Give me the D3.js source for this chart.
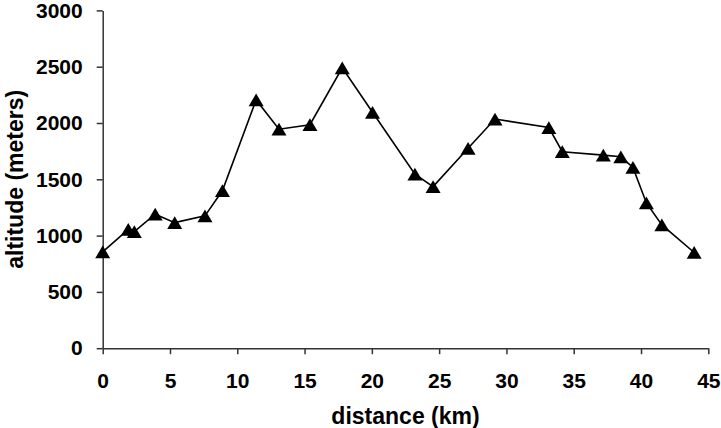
<!DOCTYPE html>
<html>
<head>
<meta charset="utf-8">
<script src="https://cdn.jsdelivr.net/npm/d3@7"></script>
<style>
  body { margin: 0; background: #fff; }
  svg text { font-family: "Liberation Sans", Arial, sans-serif; font-weight: bold; fill: #000; }
</style>
</head>
<body>
<svg id="chart"></svg>
<script>
// distance along the route (km) and altitude (m)
const distance = [0, 1.9, 2.35, 3.9, 5.35, 7.6, 8.9, 11.4, 13.1, 15.4, 17.8, 20.05,
    23.2, 24.55, 27.15, 29.15, 33.15, 34.15, 37.2, 38.5, 39.4, 40.4, 41.55, 43.95];
const altitude = [855, 1055, 1035, 1190, 1115, 1175, 1400, 2205, 1945, 1985, 2490, 2095,
    1545, 1435, 1775, 2035, 1960, 1745, 1715, 1700, 1605, 1290, 1095, 850];
const xTicks = [0, 5, 10, 15, 20, 25, 30, 35, 40, 45];
const yTicks = [0, 500, 1000, 1500, 2000, 2500, 3000];

const width = 721, height = 428;
const margin = { top: 10.4, right: 12.7, bottom: 79.8, left: 102.7 };

const svg = d3.select('#chart')
    .attr('width', width)
    .attr('height', height);

const inner_width = width - margin.left - margin.right;
const inner_height = height - margin.top - margin.bottom;

const chart = svg.append('g')
    .attr('transform', `translate(${margin.left}, ${margin.top})`);

const xscale = d3.scaleLinear().domain([0, 45]).range([0, inner_width]);
const yscale = d3.scaleLinear().domain([0, 3000]).range([inner_height, 0]);

const xaxis = d3.axisBottom(xscale).tickValues(xTicks).tickFormat(d3.format('d'))
    .tickSize(6).tickPadding(19).tickSizeOuter(0);
const yaxis = d3.axisLeft(yscale).tickValues(yTicks).tickFormat(d3.format('d'))
    .tickSize(6).tickPadding(14).tickSizeOuter(0);

const xg = chart.append('g')
    .attr('transform', `translate(0, ${inner_height})`)
    .call(xaxis);
const yg = chart.append('g').call(yaxis);

[xg, yg].forEach(g => {
    g.select('.domain').attr('stroke', '#333').attr('stroke-width', 1.5);
    g.selectAll('.tick line').attr('stroke', '#333').attr('stroke-width', 1.5);
    g.selectAll('.tick text')
        .style('font-family', '"Liberation Sans", Arial, sans-serif')
        .style('font-weight', 'bold')
        .style('font-size', '21px')
        .attr('fill', '#000');
});

const data = distance.map((d, i) => ({ x: d, y: altitude[i] }));

const line = d3.line()
    .x(d => xscale(d.x))
    .y(d => yscale(d.y));

chart.append('path')
    .datum(data)
    .attr('fill', 'none')
    .attr('stroke', '#000')
    .attr('stroke-width', 1.6)
    .attr('d', line);

// triangle centred on its bounding box, like spreadsheet markers
const triangle = {
    draw(context, size) {
        const w = Math.sqrt(size);
        const h = w * 0.85;
        context.moveTo(0, -h / 2);
        context.lineTo(w / 2, h / 2);
        context.lineTo(-w / 2, h / 2);
        context.closePath();
    }
};

chart.selectAll('path.marker')
    .data(data)
    .join('path')
    .attr('class', 'marker')
    .attr('transform', d => `translate(${xscale(d.x)}, ${yscale(d.y)})`)
    .attr('d', d3.symbol().type(triangle).size(15 * 15))
    .attr('fill', '#000');

svg.append('text')
    .attr('transform', 'rotate(-90)')
    .attr('x', -(margin.top + inner_height / 2))
    .attr('y', 23)
    .attr('text-anchor', 'middle')
    .style('font-size', '23px')
    .text('altitude (meters)');

svg.append('text')
    .attr('x', margin.left + inner_width / 2)
    .attr('y', 424)
    .attr('text-anchor', 'middle')
    .style('font-size', '23px')
    .text('distance (km)');
</script>
</body>
</html>
